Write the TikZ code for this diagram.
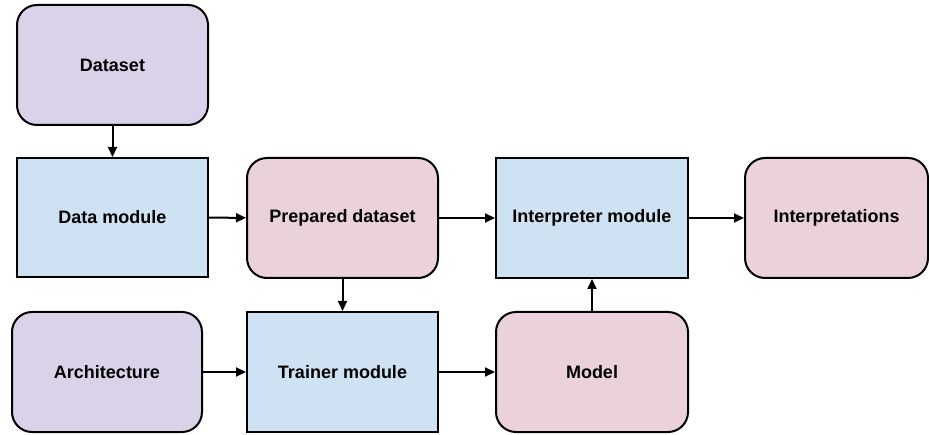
\documentclass[tikz,border=0pt]{standalone}
\usepackage{fontspec}
\setmainfont{Liberation Sans}
\usetikzlibrary{arrows.meta}
\definecolor{cpurple}{HTML}{D9D2E9}
\definecolor{cblue}{HTML}{CFE2F3}
\definecolor{cpink}{HTML}{EAD1DC}
\tikzset{
  box/.style={draw=black, line width=2pt, minimum width=191pt, minimum height=120pt, inner sep=0pt,
    font=\fontsize{18}{21}\selectfont\bfseries, text=black},
  rbox/.style={box, rounded corners=20pt},
  sbox/.style={box, fill=cblue},
  purplebox/.style={rbox, fill=cpurple},
  pinkbox/.style={rbox, fill=cpink},
  conn/.style={line width=2pt, -{Triangle[length=10pt,width=9pt]}},
}
\begin{document}
\begin{tikzpicture}[x=1pt,y=1pt]
\useasboundingbox (0,0) rectangle (929,-435);
\node[purplebox] (dataset) at (112.5,-65) {Dataset};
\node[sbox, minimum height=119pt] (datamod) at (112.5,-217.5) {Data module};
\node[pinkbox] (prep) at (342.5,-218) {Prepared dataset};
\node[sbox, minimum width=192pt] (interp) at (592,-218) {Interpreter module};
\node[pinkbox, minimum width=183pt] (interps) at (836.5,-218) {Interpretations};
\node[purplebox, minimum width=190pt] (arch) at (107,-372) {Architecture};
\node[sbox] (trainer) at (342.5,-372) {Trainer module};
\node[pinkbox, minimum width=192pt] (model) at (592,-372) {Model};
\draw[conn] (dataset) -- (datamod);
\draw[conn] (datamod) -- (prep);
\draw[conn] (prep) -- (interp);
\draw[conn] (interp) -- (interps);
\draw[conn] (prep) -- (trainer);
\draw[conn] (arch) -- (trainer);
\draw[conn] (trainer) -- (model);
\draw[conn] (model) -- (interp);
\end{tikzpicture}
\end{document}
